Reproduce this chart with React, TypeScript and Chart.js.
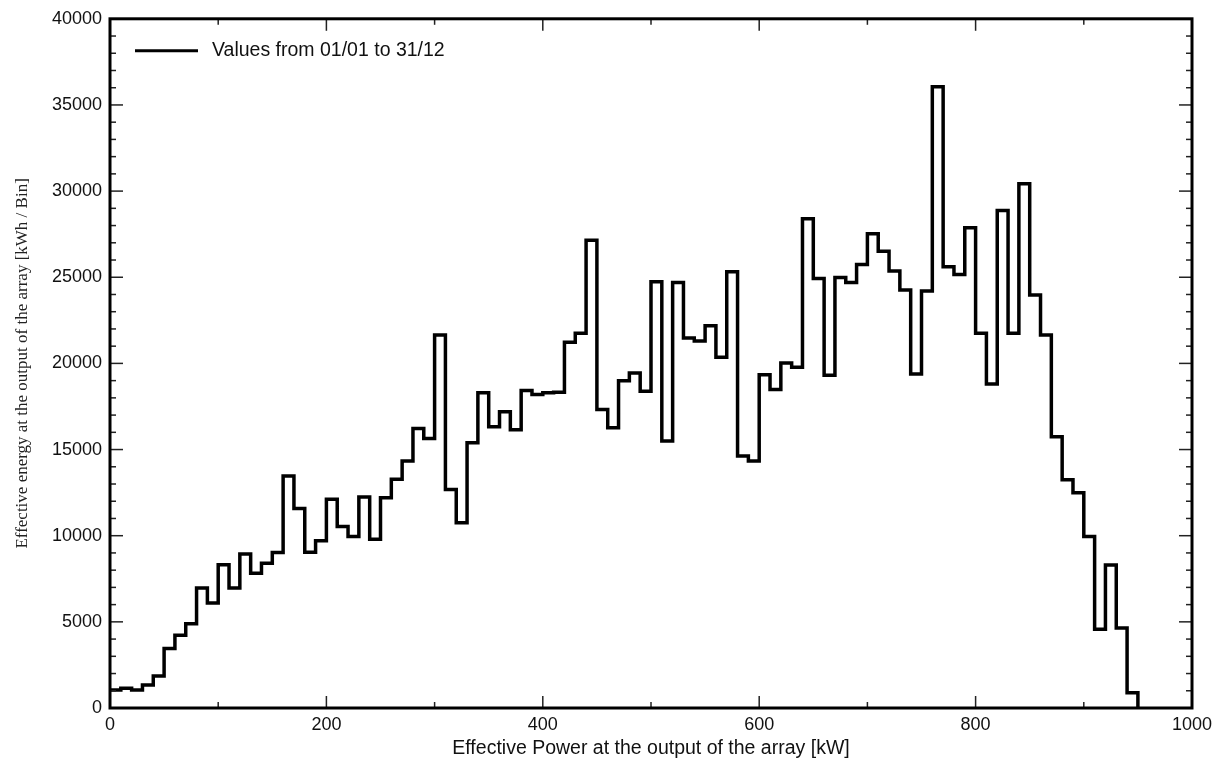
import React, { useEffect, useRef } from "react";
import { Chart, registerables } from "chart.js";

Chart.register(...registerables);

// ---- Data: effective energy per 10 kW power bin [kWh / Bin] ----
const BIN_WIDTH_KW = 10;
const ENERGY_000_090 = [1050, 1150, 1050, 1330, 1850, 3450, 4220, 4890, 6970, 6090];
const ENERGY_100_190 = [8320, 6970, 8940, 7820, 8400, 9020, 13470, 11580, 9040, 9710];
const ENERGY_200_290 = [12120, 10540, 9950, 12250, 9800, 12200, 13270, 14330, 16220, 15640];
const ENERGY_300_390 = [21650, 12680, 10750, 15400, 18300, 16330, 17190, 16150, 18420, 18200];
const ENERGY_400_490 = [18290, 18320, 21230, 21750, 27150, 17320, 16260, 18990, 19440, 18380];
const ENERGY_500_590 = [24740, 15490, 24690, 21470, 21300, 22190, 20360, 25320, 14620, 14330];
const ENERGY_600_690 = [19340, 18480, 20020, 19770, 28400, 24930, 19310, 24990, 24700, 25740];
const ENERGY_700_790 = [27530, 26510, 25360, 24260, 19380, 24200, 36050, 25610, 25160, 27880];
const ENERGY_800_890 = [21750, 18800, 28880, 21750, 30420, 23970, 21650, 15740, 13240, 12500];
const ENERGY_900_940 = [9960, 4570, 8300, 4640, 890];

const X_MIN = 0;
const X_MAX = 1000;
const X_MAJOR_STEP = 200;
const X_MINOR_STEP = 100;
const Y_MIN = 0;
const Y_MAX = 40000;
const Y_MAJOR_STEP = 5000;
const Y_MINOR_STEP = 1000;

const LEGEND_LABEL = "Values from 01/01 to 31/12";
const X_TITLE = "Effective Power at the output of the array [kW]";
const Y_TITLE = "Effective energy at the output of the array [kWh / Bin]";

const SANS = "'Liberation Sans', Arial, sans-serif";
const SERIF = "'Liberation Serif', 'Times New Roman', serif";

const ALL_ENERGY = [
  ...ENERGY_000_090,
  ...ENERGY_100_190,
  ...ENERGY_200_290,
  ...ENERGY_300_390,
  ...ENERGY_400_490,
  ...ENERGY_500_590,
  ...ENERGY_600_690,
  ...ENERGY_700_790,
  ...ENERGY_800_890,
  ...ENERGY_900_940,
];

function buildPoints() {
  const pts = ALL_ENERGY.map((v, i) => ({ x: i * BIN_WIDTH_KW, y: v }));
  // closing edge of the last bin
  pts.push({ x: ALL_ENERGY.length * BIN_WIDTH_KW, y: 0 });
  return pts;
}

const framePlugin = {
  id: "pvsystFrame",
  afterDraw(chart: any) {
    const { ctx, chartArea: a, scales } = chart;
    const xs = scales.x;
    const ys = scales.y;
    ctx.save();
    ctx.strokeStyle = "#222";
    ctx.lineWidth = 1.5;
    const seg = (x1: number, y1: number, x2: number, y2: number) => {
      ctx.beginPath();
      ctx.moveTo(x1, y1);
      ctx.lineTo(x2, y2);
      ctx.stroke();
    };
    for (let v = X_MIN; v <= X_MAX; v += X_MINOR_STEP) {
      const px = xs.getPixelForValue(v);
      const len = v % X_MAJOR_STEP === 0 ? 12 : 6;
      seg(px, a.bottom, px, a.bottom - len);
      seg(px, a.top, px, a.top + len);
    }
    for (let v = Y_MIN; v <= Y_MAX; v += Y_MINOR_STEP) {
      const py = ys.getPixelForValue(v);
      const len = v % Y_MAJOR_STEP === 0 ? 13 : 6;
      seg(a.left, py, a.left + len, py);
      seg(a.right, py, a.right - len, py);
    }
    ctx.strokeStyle = "#000";
    ctx.lineWidth = 3;
    ctx.strokeRect(a.left, a.top, a.right - a.left, a.bottom - a.top);

    // legend
    const ly = a.top + 32;
    ctx.lineWidth = 3;
    ctx.beginPath();
    ctx.moveTo(a.left + 25, ly);
    ctx.lineTo(a.left + 88, ly);
    ctx.stroke();
    ctx.fillStyle = "#111";
    ctx.font = `19.5px ${SANS}`;
    ctx.textAlign = "left";
    ctx.textBaseline = "middle";
    ctx.fillText(LEGEND_LABEL, a.left + 102, ly);
    ctx.restore();
  },
};

export default function App() {
  const canvasRef = useRef<HTMLCanvasElement | null>(null);

  useEffect(() => {
    document.body.style.margin = "0";
    const canvas = canvasRef.current;
    if (!canvas) return;
    const chart = new Chart(canvas, {
      type: "line",
      data: {
        datasets: [
          {
            label: LEGEND_LABEL,
            data: buildPoints(),
            borderColor: "#000",
            borderWidth: 3.5,
            pointRadius: 0,
            stepped: true,
            fill: false,
          },
        ],
      },
      options: {
        animation: false,
        responsive: false,
        devicePixelRatio: 1,
        layout: { padding: { left: 0, right: 32, top: 16, bottom: 0 } },
        plugins: {
          legend: { display: false },
          tooltip: { enabled: false },
        },
        scales: {
          x: {
            type: "linear",
            min: X_MIN,
            max: X_MAX,
            ticks: {
              stepSize: X_MAJOR_STEP,
              color: "#111",
              font: { family: SANS, size: 18 },
              padding: 6,
              maxRotation: 0,
              callback: (v: any) => String(v),
            },
            grid: { display: false, drawTicks: false },
            border: { display: false },
            title: {
              display: true,
              text: X_TITLE,
              color: "#111",
              font: { family: SANS, size: 19.5 },
              padding: { top: 0, bottom: 0 },
            },
            afterFit(scale: any) {
              scale.height = 52;
            },
          },
          y: {
            type: "linear",
            min: Y_MIN,
            max: Y_MAX,
            ticks: {
              stepSize: Y_MAJOR_STEP,
              color: "#111",
              font: { family: SANS, size: 18 },
              padding: 8,
              callback: (v: any) => String(v),
            },
            grid: { display: false, drawTicks: false },
            border: { display: false },
            title: {
              display: true,
              text: Y_TITLE,
              color: "#222",
              font: { family: SERIF, size: 17 },
              padding: { top: 12, bottom: 0 },
            },
            afterFit(scale: any) {
              scale.width = 110;
            },
          },
        },
      },
      plugins: [framePlugin],
    });
    return () => chart.destroy();
  }, []);

  return (
    <div style={{ width: 1224, height: 760 }}>
      <canvas ref={canvasRef} width={1224} height={760} style={{ display: "block" }} />
    </div>
  );
}
